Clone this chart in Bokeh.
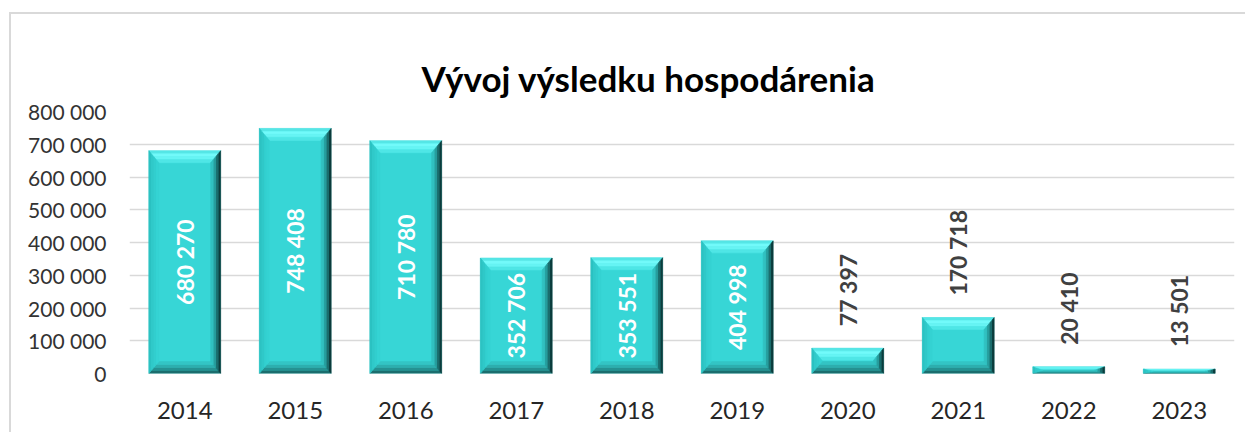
import numpy as np
from bokeh.plotting import figure
from bokeh.models import (FactorRange, Range1d, FixedTicker, CustomJSTickFormatter,
                          ColumnDataSource)
from bokeh.core.properties import value
from bokeh.embed import file_html
from bokeh.resources import INLINE

# ---------------- data ----------------
title_text = "Vývoj výsledku hospodárenia"
years = ["2014", "2015", "2016", "2017", "2018", "2019", "2020", "2021", "2022", "2023"]
results = [680270, 748408, 710780, 352706, 353551, 404998, 77397, 170718, 20410, 13501]
y_ticks = [0, 100000, 200000, 300000, 400000, 500000, 600000, 700000, 800000]
y_max = 800000
inside_threshold = 300000

# ---------------- style ----------------
W, H = 1236, 420
ML, MR, MT, MB = 118, 13, 97, 61
FONT = "Lato"
BAR_W = 0.65
FACE = "#37d6d6"
BEVEL_PX_X, BEVEL_PX_Y = 10, 12
N_BANDS = 4
top_cols = ["#55e6e6", "#72fafa", "#66f4f4", "#4fe6e6"]
left_cols = ["#2cc2c2", "#30c9c9", "#33cfcf", "#35d3d3"]
right_cols = ["#0c3c3c", "#1b6d6d", "#279d9d", "#31c0c0"]
bottom_cols = ["#1b6e6e", "#259191", "#2daeae", "#33c4c4"]

frame_w = W - ML - MR
frame_h = H - MT - MB

p = figure(width=W, height=H, x_range=FactorRange(*years), y_range=Range1d(0, y_max),
           output_backend="svg", toolbar_location=None,
           min_border_left=ML, min_border_right=MR, min_border_top=MT, min_border_bottom=MB)
p.x_range.range_padding = 0
p.outline_line_color = None
p.background_fill_color = "white"
p.border_fill_color = "white"
# outer (cropped) chart frame
p.styles = {"border-left": "2px solid #d9d9d9", "border-top": "2px solid #d9d9d9",
            "margin-left": "9px", "margin-top": "12px"}

# title
p.title.text = title_text
p.title.align = "left"
p.title.offset = 292
p.title.standoff = 25
p.title.text_font = FONT
p.title.text_font_style = "bold"
p.title.text_font_size = "35px"
p.title.text_color = "black"

# axes
p.xgrid.grid_line_color = None
p.ygrid.grid_line_color = "#d9d9d9"
p.ygrid.grid_line_width = 1.3
p.yaxis.ticker = FixedTicker(ticks=y_ticks)
p.yaxis.formatter = CustomJSTickFormatter(
    code="return Math.round(tick).toString().replace(/\\B(?=(\\d{3})+(?!\\d))/g, ' ');")
for ax in (p.xaxis, p.yaxis):
    ax.axis_line_color = None
    ax.major_tick_line_color = None
    ax.minor_tick_line_color = None
    ax.major_label_text_font = FONT
p.yaxis.major_label_text_font_size = "21px"
p.yaxis.major_label_text_color = "#333333"
p.yaxis.major_label_standoff = 17
p.xaxis.major_label_text_font_size = "24px"
p.xaxis.major_label_text_color = "#262626"
p.xaxis.major_label_standoff = 22

# bars: face
src = ColumnDataSource(dict(x=years, top=results))
p.vbar(x="x", top="top", width=BAR_W, source=src, fill_color=FACE, line_color=None)

# bars: bevel bands
dx_full = BEVEL_PX_X * len(years) / frame_w  # category units per bevel
dy_full = BEVEL_PX_Y * y_max / frame_h       # data units per bevel
xs_all, ys_all, cols = [], [], []
for i, v in enumerate(results):
    cx = i + 0.5
    L, R, B, T = cx - BAR_W / 2, cx + BAR_W / 2, 0.0, float(v)
    dy_b = min(dy_full, v / 2.0)
    dx_b = min(dx_full, BAR_W / 2.0)
    for k in range(N_BANDS):
        x0, x1 = dx_b * k / N_BANDS, dx_b * (k + 1) / N_BANDS
        y0, y1 = dy_b * k / N_BANDS, dy_b * (k + 1) / N_BANDS
        xs_all.append([L + x0, R - x0, R - x1, L + x1]); ys_all.append([T - y0, T - y0, T - y1, T - y1]); cols.append(top_cols[k])
        xs_all.append([L + x0, R - x0, R - x1, L + x1]); ys_all.append([B + y0, B + y0, B + y1, B + y1]); cols.append(bottom_cols[k])
        xs_all.append([L + x0, L + x1, L + x1, L + x0]); ys_all.append([T - y0, T - y1, B + y1, B + y0]); cols.append(left_cols[k])
        xs_all.append([R - x0, R - x1, R - x1, R - x0]); ys_all.append([T - y0, T - y1, B + y1, B + y0]); cols.append(right_cols[k])
p.patches(xs=xs_all, ys=ys_all, fill_color=cols, line_color=cols, line_width=0.6)

# value labels
def fmt(v):
    return f"{v:,}".replace(",", " ")

in_x = [y for y, v in zip(years, results) if v >= inside_threshold]
in_y = [v / 2 for v in results if v >= inside_threshold]
in_t = [fmt(v) for v in results if v >= inside_threshold]
out_x = [y for y, v in zip(years, results) if v < inside_threshold]
out_y = [v for v in results if v < inside_threshold]
out_t = [fmt(v) for v in results if v < inside_threshold]

p.text(x=in_x, y=in_y, text=in_t, angle=np.pi / 2, text_align="center", text_baseline="middle",
       text_font=value(FONT), text_font_style="bold", text_font_size="23px", text_color="white")
p.text(x=out_x, y=out_y, text=out_t, angle=np.pi / 2, text_align="left", text_baseline="middle",
       y_offset=-22, text_font=value(FONT), text_font_style="bold", text_font_size="23px",
       text_color="#404040")

open("out.html", "w").write(file_html(p, INLINE))
